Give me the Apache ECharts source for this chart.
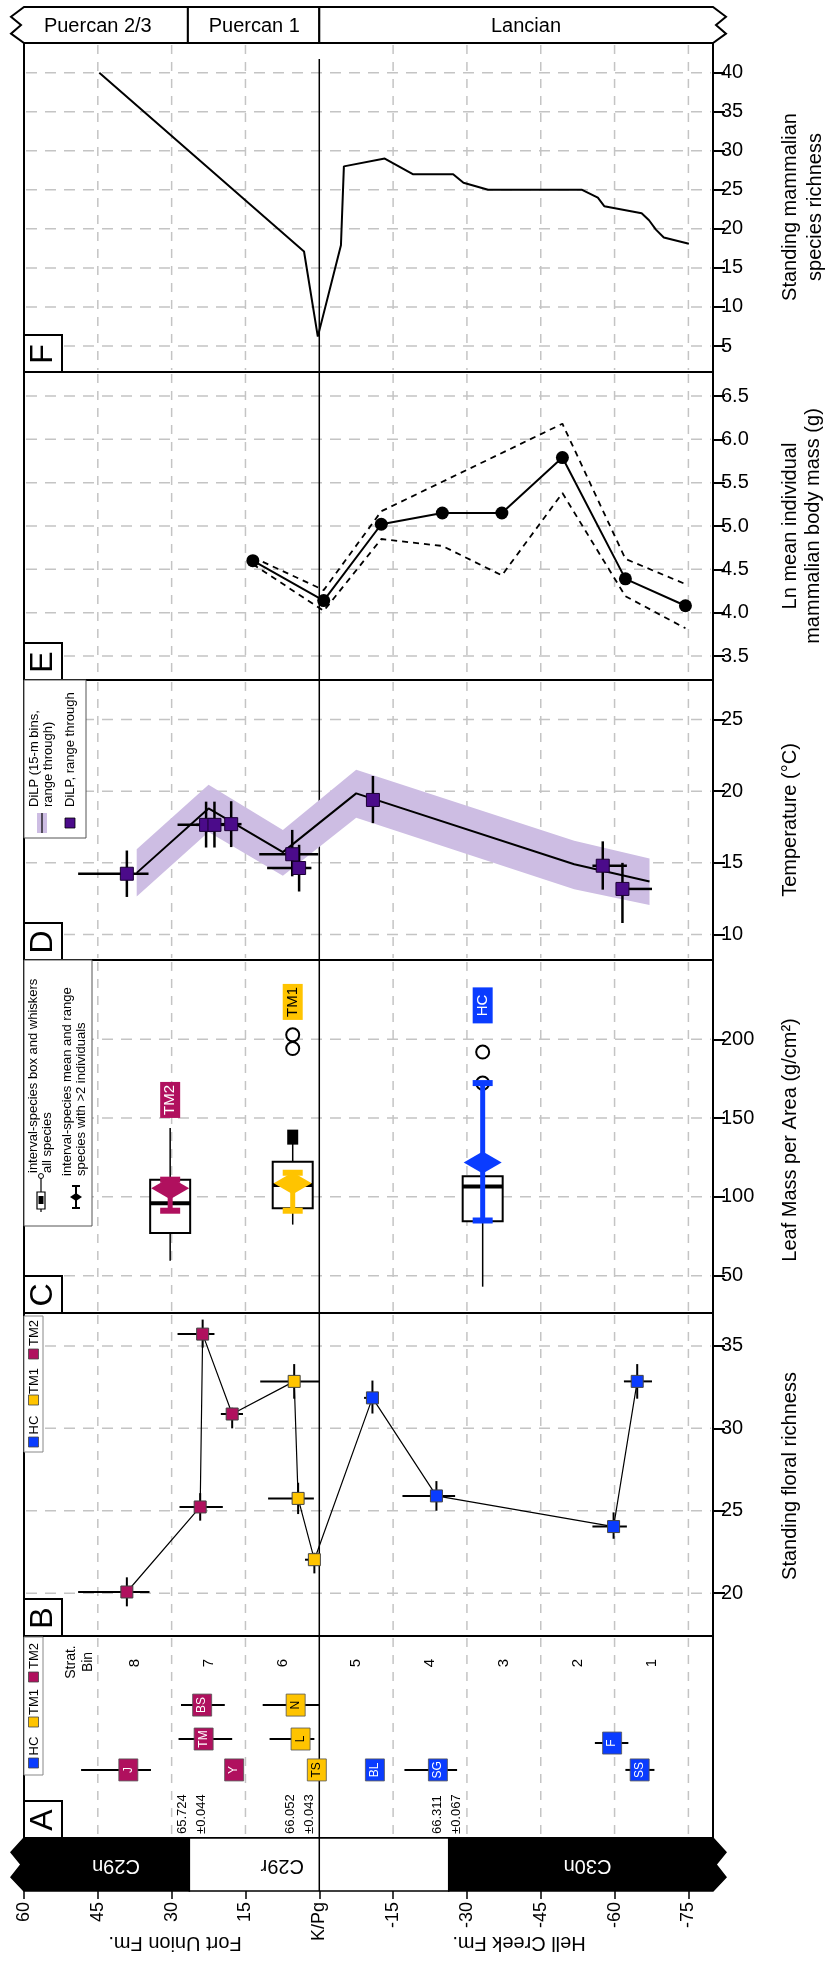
<!DOCTYPE html>
<html>
<head>
<meta charset="utf-8">
<title>Hell Creek / Fort Union records across the K/Pg boundary</title>
<script src="https://cdn.jsdelivr.net/npm/echarts@6.0.0/dist/echarts.min.js"></script>
<style>
html, body { margin: 0; padding: 0; background: #fff; }
#chart { width: 827px; height: 1968px; }
</style>
</head>
<body>
<div id="chart"></div>
<script>
// ---------------- data ----------------
// x everywhere: stratigraphic position (m) relative to the K/Pg boundary
const stratTicks = [60, 45, 30, 15, 0, -15, -30, -45, -60, -75];
const stratGrid = [45, 30, 15, -15, -30, -45, -60, -75];

// North American land-mammal ages
const nalmaNames = ['Puercan 2/3', 'Puercan 1', 'Lancian'];
const nalmaFrom = [60, 26.7, 0];
const nalmaTo = [26.7, 0, -80];

// magnetochrons and boundary ages (Ma)
const chronNames = ['C29n', 'C29r', 'C30n'];
const chronFrom = [60, 26.4, -26.3];
const chronTo = [26.4, -26.3, -80];
const chronPolarity = ['normal', 'reversed', 'normal'];
const chronAges = ['65.724', '66.052', '66.311'];
const chronAgeErr = ['±0.044', '±0.043', '±0.067'];

// F: standing mammalian species richness
const mammTicks = [5, 10, 15, 20, 25, 30, 35, 40];
const mammStrat = [44.7, 3.1, 0.3, -4.4, -5.0, -13.3, -19.0, -27.2, -29.3, -34.3, -53.4, -56.6, -57.9, -65.5, -67.0, -68.4, -70.0, -75.1];
const mammRichness = [40, 17.1, 6.2, 17.9, 28.0, 29.0, 27.0, 27.0, 25.9, 25.0, 25.0, 24.0, 22.9, 22.0, 21.1, 19.9, 18.9, 18.1];

// E: ln mean individual mammalian body mass
const massTicks = [3.5, 4.0, 4.5, 5.0, 5.5, 6.0, 6.5];
const massStrat = [13.5, -0.9, -12.6, -25.0, -37.1, -49.4, -62.2, -74.4];
const massMean = [4.60, 4.14, 5.02, 5.15, 5.15, 5.79, 4.39, 4.08];
const massUpperStrat = [13.5, -0.9, -12.6, -49.4, -62.2, -74.4];
const massUpper = [4.64, 4.26, 5.17, 6.18, 4.62, 4.33];
const massLowerStrat = [13.5, -0.9, -12.6, -25.0, -37.1, -49.4, -62.2, -74.4];
const massLower = [4.56, 4.02, 4.85, 4.77, 4.43, 5.38, 4.19, 3.82];

// D: DiLP temperature
const tempTicks = [10, 15, 20, 25];
const tempBinStrat = [37.1, 22.5, 7.4, -7.5, -51.8, -67.1];
const tempBin = [14.3, 18.8, 15.75, 19.85, 14.9, 13.7];
const tempBinLow = [12.65, 17.15, 14.1, 18.15, 13.15, 12.05];
const tempBinHigh = [15.95, 20.45, 17.3, 21.5, 16.55, 15.3];
const tempStrat = [39.1, 23.0, 21.3, 17.9, 5.5, 4.1, -10.9, -57.6, -61.6];
const tempStratMax = [49.0, 28.8, 25.0, 21.0, 12.2, 10.6, -10.9, -55.5, -61.6];
const tempStratMin = [34.7, 19.8, 19.0, 15.8, 0.2, 1.6, -10.9, -62.5, -67.6];
const temp = [14.24, 17.65, 17.65, 17.7, 15.6, 14.64, 19.39, 14.8, 13.18];
const tempLow = [12.62, 16.07, 16.07, 16.1, 14.06, 13.0, 17.77, 13.13, 10.8];
const tempHigh = [15.86, 19.27, 19.27, 19.3, 17.3, 16.26, 21.06, 16.5, 15.0];

// C: leaf mass per area
const lmaTicks = [50, 100, 150, 200];
const lmaGroup = ['TM2', 'TM1', 'HC'];
const lmaStrat = [30.3, 5.4, -33.2];
const lmaWhiskerLow = [59.4, 82.4, 43.0];
const lmaQ1 = [77.0, 92.7, 84.6];
const lmaMedian = [96.0, 107.6, 106.5];
const lmaQ3 = [110.9, 122.3, 113.1];
const lmaWhiskerHigh = [143.7, 134.3, 117.4];
const lmaUpperMarker = [null, 137.9, null];
const lmaOutliers = [[], [194.1, 202.8], [172.2, 191.9]];
const lmaSpeciesMin = [91.2, 91.2, 85.0];
const lmaSpeciesMean = [105.4, 108.7, 121.8];
const lmaSpeciesMax = [110.9, 115.3, 172.2];

// B: standing floral richness
const floraTicks = [20, 25, 30, 35];
const floraGroup = ['TM2', 'TM2', 'TM2', 'TM2', 'TM1', 'TM1', 'TM1', 'HC', 'HC', 'HC', 'HC'];
const floraStrat = [39.1, 24.2, 23.7, 17.7, 5.1, 4.3, 1.0, -10.8, -23.8, -59.8, -64.6];
const floraStratMax = [49.0, 28.4, 28.8, 20.0, 12.0, 10.4, 2.9, -9.1, -16.9, -55.5, -61.9];
const floraStratMin = [34.5, 19.6, 21.3, 15.5, 0.0, 1.1, 0.75, -11.9, -27.6, -62.5, -67.6];
const floraRichness = [20.07, 25.23, 35.72, 30.87, 32.85, 25.75, 22.03, 31.85, 25.9, 24.04, 32.85];
const floraRichMin = [19.2, 24.4, 34.9, 30.0, 31.8, 24.8, 21.2, 30.9, 25.0, 23.3, 31.8];
const floraRichMax = [20.96, 26.07, 36.6, 31.25, 33.9, 26.7, 22.45, 32.9, 26.8, 24.9, 33.9];

// A: fossil sites and stratigraphic bins
const siteNames = ['J', 'BS', 'TM', 'Y', 'N', 'L', 'TS', 'BL', 'SG', 'F', 'SS'];
const siteGroup = ['TM2', 'TM2', 'TM2', 'TM2', 'TM1', 'TM1', 'TM1', 'HC', 'HC', 'HC', 'HC'];
const siteStrat = [38.8, 23.8, 23.5, 17.3, 4.8, 3.8, 0.5, -11.3, -24.1, -59.5, -65.1];
const siteStratMax = [48.4, 28.1, 28.6, 17.3, 11.5, 10.1, 0.5, -11.3, -17.3, -56.0, -62.2];
const siteStratMin = [34.2, 19.2, 17.7, 17.3, 0.0, 1.0, 0.5, -11.3, -28.0, -62.8, -68.1];
const binLabels = ['8', '7', '6', '5', '4', '3', '2', '1'];
const binTop = [45, 30, 15, 0, -15, -30, -45, -60];
const binBase = [30, 15, 0, -15, -30, -45, -60, -75];

// ---------------- layout & style ----------------
const FONT = '"Liberation Sans", Arial, Helvetica, sans-serif';
const PLOT_L = 24, PLOT_R = 713;
const panelOrder = ['top', 'F', 'E', 'D', 'C', 'B', 'A', 'chron'];
const panelBox = { top: [7, 36], F: [43, 329], E: [372, 308], D: [680, 280], C: [960, 353], B: [1313, 323], A: [1636, 202], chron: [1838, 53] };
const yRange = { top: [0, 1], F: [1.67, 43.8], E: [3.223, 6.777], D: [8.22, 27.76], C: [26.3, 250.3], B: [17.4, 37.0], A: [0, 1], chron: [0, 1] };
const yTickVals = { F: mammTicks, E: massTicks, D: tempTicks, C: lmaTicks, B: floraTicks };
const kpgTopF = 41.75;
const nalmaLabelAt = [45, 13.2, -42];
const chronLabelAt = [41.3, 7.5, -54.5];
const lmaLabelY = { TM2: 161.5, TM1: 223.7, HC: 221.5 };
const siteRowY = { J: 0.337, BS: 0.658, TM: 0.49, Y: 0.337, N: 0.658, L: 0.49, TS: 0.337, BL: 0.337, SG: 0.337, F: 0.47, SS: 0.337 };
const GRID_GRAY = '#c4c4c4';
const groupColor = { HC: '#0a3cff', TM1: '#ffc400', TM2: '#b0105e' };
const groupText = { HC: '#fff', TM1: '#000', TM2: '#fff' };
const C_DILP = '#4b0b8a', C_BAND = '#cdbde3';
const CCW = Math.PI / 2, FLIP = Math.PI;

const gi = n => panelOrder.indexOf(n);
const ax = n => ({ xAxisIndex: gi(n), yAxisIndex: gi(n) });
const zip = (a, b) => a.map((v, i) => [v, b[i]]);

// ---------------- grids & axes ----------------
const grid = panelOrder.map(n => {
  const [top, h] = panelBox[n];
  const framed = n !== 'top' && n !== 'chron';
  return { left: PLOT_L, width: PLOT_R - PLOT_L, top, height: h, show: framed,
    borderColor: '#000', borderWidth: 2, backgroundColor: 'rgba(0,0,0,0)', containLabel: false };
});

const xAxis = panelOrder.map((n, i) => {
  const base = { gridIndex: i, type: 'value', min: -80, max: 60, inverse: true };
  if (n !== 'chron') return Object.assign(base, { show: false });
  return Object.assign(base, {
    position: 'bottom',
    axisLine: { show: false, onZero: false },
    axisTick: { show: true, inside: false, length: 8, customValues: stratTicks, lineStyle: { color: '#000', width: 1.5 } },
    axisLabel: { show: true, customValues: stratTicks, rotate: 90, margin: 11, fontSize: 18, fontFamily: FONT, color: '#000',
      formatter: v => (v === 0 ? 'K/Pg' : String(v)) },
    splitLine: { show: false }
  });
});

const yAxis = panelOrder.map((n, i) => {
  const base = { gridIndex: i, type: 'value', min: yRange[n][0], max: yRange[n][1] };
  const ticks = yTickVals[n];
  if (!ticks) return Object.assign(base, { show: false });
  return Object.assign(base, {
    position: 'right',
    axisLine: { show: true, onZero: false, lineStyle: { color: '#000', width: 2 } },
    axisTick: { show: true, inside: false, length: 12, customValues: ticks, lineStyle: { color: '#000', width: 2 } },
    axisLabel: { show: true, customValues: ticks, margin: 8, fontSize: 20, fontFamily: FONT, color: '#000',
      formatter: n === 'E' ? (v => Number(v).toFixed(1)) : (v => String(v)) },
    splitLine: { show: false }
  });
});

// ---------------- series ----------------
const series = [];
const textStyle = (text, size, color, align) => ({ text, fill: color || '#000', font: size + 'px ' + FONT,
  align: align || 'center', verticalAlign: 'middle', textAlign: align || 'center', textVerticalAlign: 'middle' });

// dashed reference lines
['F', 'E', 'D', 'C', 'B', 'A'].forEach(n => {
  series.push(Object.assign(ax(n), {
    type: 'custom', silent: true, z: 1, data: stratGrid.map(v => [v]), encode: { x: 0 },
    renderItem(params, api) {
      const cs = params.coordSys;
      const x = api.coord([api.value(0), yRange[n][0]])[0];
      return { type: 'line', shape: { x1: x, y1: cs.y + 2, x2: x, y2: cs.y + cs.height - 2 },
        style: { stroke: GRID_GRAY, lineWidth: 1.5, lineDash: [9, 8] } };
    }
  }));
  if (yTickVals[n]) {
    series.push(Object.assign(ax(n), {
      type: 'custom', silent: true, z: 1, data: yTickVals[n].map(v => [v]), encode: { y: 0 },
      renderItem(params, api) {
        const cs = params.coordSys;
        const y = api.coord([0, api.value(0)])[1];
        return { type: 'line', shape: { x1: cs.x + 2, y1: y, x2: cs.x + cs.width - 2, y2: y },
          style: { stroke: GRID_GRAY, lineWidth: 1.5, lineDash: [11, 8] } };
      }
    }));
  }
});

// K/Pg boundary line
['F', 'E', 'D', 'C', 'B', 'A', 'chron'].forEach(n => {
  series.push(Object.assign(ax(n), {
    type: 'custom', silent: true, z: n === 'chron' ? 7 : 2, data: [[0]], encode: { x: 0 },
    renderItem(params, api) {
      const cs = params.coordSys;
      const x = api.coord([0, yRange[n][0]])[0];
      const y1 = n === 'F' ? api.coord([0, kpgTopF])[1] : cs.y;
      return { type: 'line', shape: { x1: x, y1, x2: x, y2: cs.y + cs.height }, style: { stroke: '#000', lineWidth: 1.5 } };
    }
  }));
});

// banded time scales (top: NALMA, bottom: magnetochrons)
function bandRow(n, from, to, names, labelAt, fillFn, textFn, textRot, lw) {
  return Object.assign(ax(n), {
    type: 'custom', silent: true, z: 5,
    data: names.map((nm, i) => [from[i], to[i], labelAt[i]]), encode: { x: [0, 1] },
    renderItem(params, api) {
      const i = params.dataIndex, cs = params.coordSys;
      const x1 = api.coord([api.value(0), 0])[0], x2 = api.coord([api.value(1), 0])[0];
      const top = cs.y, h = cs.height, bot = top + h;
      const pts = [[x1, top], [x2, top]];
      if (i === names.length - 1) pts.push([x2 + 13, top + h * 0.27], [x2 + 3, top + h * 0.5], [x2 + 13, top + h * 0.74]);
      pts.push([x2, bot], [x1, bot]);
      if (i === 0) pts.push([x1 - 13, top + h * 0.74], [x1 - 3, top + h * 0.5], [x1 - 13, top + h * 0.27]);
      const lx = api.coord([api.value(2), 0])[0];
      return { type: 'group', children: [
        { type: 'polygon', shape: { points: pts }, style: { fill: fillFn(i), stroke: '#000', lineWidth: lw } },
        { type: 'text', x: lx, y: top + h / 2 + 1, rotation: textRot, style: textStyle(names[i], 20, textFn(i)) }
      ] };
    }
  });
}
series.push(bandRow('top', nalmaFrom, nalmaTo, nalmaNames, nalmaLabelAt, () => '#fff', () => '#000', 0, 2));
series.push(bandRow('chron', chronFrom, chronTo, chronNames, chronLabelAt,
  i => (chronPolarity[i] === 'normal' ? '#000' : '#fff'),
  i => (chronPolarity[i] === 'normal' ? '#fff' : '#000'), FLIP, 1.5));

// F
series.push(Object.assign(ax('F'), { type: 'line', silent: true, z: 4, symbol: 'none', showSymbol: false,
  data: zip(mammStrat, mammRichness), lineStyle: { color: '#000', width: 2 } }));

// E
series.push(Object.assign(ax('E'), { type: 'line', silent: true, z: 3, symbol: 'none', showSymbol: false,
  data: zip(massUpperStrat, massUpper), lineStyle: { color: '#000', width: 1.8, type: [6, 5] } }));
series.push(Object.assign(ax('E'), { type: 'line', silent: true, z: 3, symbol: 'none', showSymbol: false,
  data: zip(massLowerStrat, massLower), lineStyle: { color: '#000', width: 1.8, type: [6, 5] } }));
series.push(Object.assign(ax('E'), { type: 'line', silent: true, z: 4, symbol: 'circle', symbolSize: 13, showSymbol: true,
  data: zip(massStrat, massMean), itemStyle: { color: '#000', opacity: 1 }, lineStyle: { color: '#000', width: 2 } }));

// error bars helper
function errorBars(n, xs, ys, xa, xb, ya, yb, width, z) {
  return Object.assign(ax(n), {
    type: 'custom', silent: true, z: z || 3,
    data: xs.map((x, i) => [x, ys[i], xa ? xa[i] : x, xb ? xb[i] : x, ya ? ya[i] : ys[i], yb ? yb[i] : ys[i]]),
    encode: { x: [0, 2, 3], y: [1, 4, 5] },
    renderItem(params, api) {
      const a = api.coord([api.value(2), api.value(1)]), b = api.coord([api.value(3), api.value(1)]);
      const d = api.coord([api.value(0), api.value(4)]), e = api.coord([api.value(0), api.value(5)]);
      const st = { stroke: '#000', lineWidth: width };
      return { type: 'group', children: [
        { type: 'line', shape: { x1: a[0], y1: a[1], x2: b[0], y2: b[1] }, style: st },
        { type: 'line', shape: { x1: d[0], y1: d[1], x2: e[0], y2: e[1] }, style: st }
      ] };
    }
  });
}

// D
series.push(Object.assign(ax('D'), {
  type: 'custom', silent: true, z: 2, data: [[0]], encode: { x: 0 },
  renderItem(params, api) {
    const up = tempBinStrat.map((s, i) => api.coord([s, tempBinHigh[i]]));
    const lo = tempBinStrat.map((s, i) => api.coord([s, tempBinLow[i]])).reverse();
    return { type: 'polygon', shape: { points: up.concat(lo) }, style: { fill: C_BAND } };
  }
}));
series.push(Object.assign(ax('D'), { type: 'line', silent: true, z: 3, symbol: 'none', showSymbol: false,
  data: zip(tempBinStrat, tempBin), lineStyle: { color: '#000', width: 2 } }));
series.push(errorBars('D', tempStrat, temp, tempStratMax, tempStratMin, tempLow, tempHigh, 2.5, 3));
series.push(Object.assign(ax('D'), { type: 'scatter', silent: true, z: 4, symbol: 'rect', symbolSize: 13,
  data: zip(tempStrat, temp), itemStyle: { color: C_DILP, opacity: 1, borderColor: '#1a0033', borderWidth: 1 } }));

// C: box-and-whisker per interval
series.push(Object.assign(ax('C'), {
  type: 'custom', silent: true, z: 3,
  data: lmaStrat.map((s, i) => [s, lmaQ1[i], lmaMedian[i], lmaQ3[i], lmaWhiskerLow[i], lmaWhiskerHigh[i]]),
  encode: { x: 0, y: [1, 2, 3, 4, 5] },
  renderItem(params, api) {
    const s = api.value(0);
    const x = api.coord([s, api.value(1)])[0];
    const yq1 = api.coord([s, api.value(1)])[1], ymed = api.coord([s, api.value(2)])[1];
    const yq3 = api.coord([s, api.value(3)])[1], ylo = api.coord([s, api.value(4)])[1], yhi = api.coord([s, api.value(5)])[1];
    const hw = 20;
    return { type: 'group', children: [
      { type: 'line', shape: { x1: x, y1: yhi, x2: x, y2: yq3 }, style: { stroke: '#000', lineWidth: 1.5 } },
      { type: 'line', shape: { x1: x, y1: yq1, x2: x, y2: ylo }, style: { stroke: '#000', lineWidth: 1.5 } },
      { type: 'rect', shape: { x: x - hw, y: yq3, width: 2 * hw, height: yq1 - yq3 }, style: { fill: '#fff', stroke: '#000', lineWidth: 2 } },
      { type: 'line', shape: { x1: x - hw, y1: ymed, x2: x + hw, y2: ymed }, style: { stroke: '#000', lineWidth: 4 } }
    ] };
  }
}));
series.push(Object.assign(ax('C'), { type: 'scatter', silent: true, z: 3, symbol: 'emptyCircle', symbolSize: 13,
  data: lmaOutliers.flatMap((arr, i) => arr.map(v => [lmaStrat[i], v])),
  itemStyle: { color: '#000', opacity: 1, borderColor: '#000', borderWidth: 2.5 } }));
series.push(Object.assign(ax('C'), { type: 'scatter', silent: true, z: 3, symbol: 'rect', symbolSize: [11, 15],
  data: lmaUpperMarker.map((v, i) => (v == null ? null : [lmaStrat[i], v])).filter(Boolean),
  itemStyle: { color: '#000', opacity: 1 } }));
// species mean and range
series.push(Object.assign(ax('C'), {
  type: 'custom', silent: true, z: 4,
  data: lmaStrat.map((s, i) => [s, lmaSpeciesMin[i], lmaSpeciesMean[i], lmaSpeciesMax[i]]),
  encode: { x: 0, y: [1, 2, 3] },
  renderItem(params, api) {
    const i = params.dataIndex, s = api.value(0);
    const x = api.coord([s, api.value(2)])[0];
    const ylo = api.coord([s, api.value(1)])[1], ym = api.coord([s, api.value(2)])[1], yhi = api.coord([s, api.value(3)])[1];
    const c = groupColor[lmaGroup[i]];
    return { type: 'group', children: [
      { type: 'line', shape: { x1: x, y1: ylo, x2: x, y2: yhi }, style: { stroke: c, lineWidth: 5 } },
      { type: 'rect', shape: { x: x - 10, y: ylo - 3, width: 20, height: 6 }, style: { fill: c } },
      { type: 'rect', shape: { x: x - 10, y: yhi - 3, width: 20, height: 6 }, style: { fill: c } },
      { type: 'polygon', shape: { points: [[x - 19, ym], [x, ym - 11], [x + 19, ym], [x, ym + 11]] }, style: { fill: c } }
    ] };
  }
}));
series.push(Object.assign(ax('C'), { type: 'scatter', silent: true, z: 5, symbol: 'rect', symbolSize: [20, 36],
  data: lmaGroup.map((g, i) => ({ value: [lmaStrat[i], lmaLabelY[g]], itemStyle: { color: groupColor[g], opacity: 1 },
    label: { color: groupText[g] } })),
  label: { show: true, position: 'inside', rotate: 90, fontSize: 15, fontFamily: FONT, formatter: p => lmaGroup[p.dataIndex] } }));

// B
series.push(Object.assign(ax('B'), { type: 'line', silent: true, z: 3, symbol: 'none', showSymbol: false,
  data: zip(floraStrat, floraRichness), lineStyle: { color: '#000', width: 1.2 } }));
series.push(errorBars('B', floraStrat, floraRichness, floraStratMax, floraStratMin, floraRichMin, floraRichMax, 2, 3));
series.push(Object.assign(ax('B'), { type: 'scatter', silent: true, z: 4, symbol: 'rect', symbolSize: 12,
  data: floraStrat.map((s, i) => ({ value: [s, floraRichness[i]], itemStyle: { color: groupColor[floraGroup[i]], opacity: 1 } })),
  itemStyle: { opacity: 1, borderColor: '#444', borderWidth: 1 } }));

// A
series.push(errorBars('A', siteStrat, siteNames.map(nm => siteRowY[nm]), siteStratMax, siteStratMin, null, null, 2, 3));
series.push(Object.assign(ax('A'), { type: 'scatter', silent: true, z: 4, symbol: 'rect', symbolSize: [19, 22],
  data: siteStrat.map((s, i) => ({ value: [s, siteRowY[siteNames[i]]], itemStyle: { color: groupColor[siteGroup[i]], opacity: 1 },
    label: { color: groupText[siteGroup[i]] } })),
  itemStyle: { opacity: 1, borderColor: '#555', borderWidth: 0.8 },
  label: { show: true, position: 'inside', rotate: 90, fontSize: 12, fontFamily: FONT, formatter: p => siteNames[p.dataIndex] } }));
series.push(Object.assign(ax('A'), {
  type: 'custom', silent: true, z: 4,
  data: binLabels.map((b, i) => [(binTop[i] + binBase[i]) / 2]), encode: { x: 0 },
  renderItem(params, api) {
    const p = api.coord([api.value(0), 0.866]);
    return { type: 'text', x: p[0], y: p[1], rotation: CCW, style: textStyle(binLabels[params.dataIndex], 15) };
  }
}));

// ---------------- annotations ----------------
const graphic = [];
function gText(text, x, y, size, opt) {
  opt = opt || {};
  graphic.push({ type: 'text', x, y, rotation: opt.rot || 0, z: opt.z || 60, silent: true,
    style: textStyle(text, size, opt.color, opt.align) });
}
function gRect(x, y, w, h, style, z) { graphic.push({ type: 'rect', shape: { x, y, width: w, height: h }, style, z: z || 55, silent: true }); }
function gLine(x1, y1, x2, y2, style, z) { graphic.push({ type: 'line', shape: { x1, y1, x2, y2 }, style, z: z || 56, silent: true }); }

// panel letters
['F', 'E', 'D', 'C', 'B', 'A'].forEach(n => {
  const [top, h] = panelBox[n];
  const y0 = top + h - 37;
  gRect(PLOT_L, y0, 38, 37, { fill: '#fff', stroke: '#000', lineWidth: 2 });
  gText(n, PLOT_L + 19, y0 + 19, 32, { rot: CCW });
});

// value-axis titles
gText('Standing mammalian', 790, 207, 20, { rot: CCW });
gText('species richness', 815, 207, 20, { rot: CCW });
gText('Ln mean individual', 790, 526, 20, { rot: CCW });
gText('mammalian body mass (g)', 813, 526, 20, { rot: CCW });
gText('Temperature (°C)', 790, 820, 20, { rot: CCW });
gText('Leaf Mass per Area (g/cm²)', 790, 1140, 20, { rot: CCW });
gText('Standing floral richness', 790, 1476, 20, { rot: CCW });

// formation names under the stratigraphic axis
gText('Fort Union Fm.', 175, 1943, 20, { rot: FLIP });
gText('Hell Creek Fm.', 519, 1943, 20, { rot: FLIP });

// chron boundary ages
const ageCols = [[182, 201], [290, 309], [437, 456]];
chronAges.forEach((a, i) => {
  gText(a, ageCols[i][0], 1834, 13, { rot: CCW, align: 'left' });
  gText(chronAgeErr[i], ageCols[i][1], 1834, 13, { rot: CCW, align: 'left' });
});

// strat bin header
gText('Strat.', 71, 1662, 14, { rot: CCW });
gText('Bin', 88, 1662, 14, { rot: CCW });

// group legends (A and B)
function groupLegend(top, bottom, items) {
  gRect(PLOT_L, top, 19, bottom - top, { fill: '#fff', stroke: '#888', lineWidth: 1 });
  items.forEach(([g, sqY, txtY]) => {
    gRect(PLOT_L + 4.5, sqY - 5, 10, 10, { fill: groupColor[g], stroke: '#444', lineWidth: 0.8 }, 57);
    gText(g, PLOT_L + 10, txtY, 13, { rot: CCW, z: 57 });
  });
}
groupLegend(1316, 1452, [['HC', 1442, 1425], ['TM1', 1400, 1381], ['TM2', 1354, 1333]]);
groupLegend(1637, 1775, [['HC', 1763, 1746], ['TM1', 1722, 1702], ['TM2', 1677, 1656]]);

// D legend
gRect(PLOT_L, 680, 62, 158, { fill: '#fff', stroke: '#555', lineWidth: 1 });
gRect(37, 813, 10, 20, { fill: C_BAND }, 57);
gLine(42, 813, 42, 833, { stroke: '#000', lineWidth: 1.2 }, 58);
gText('DiLP (15-m bins,', 34, 807, 13, { rot: CCW, align: 'left', z: 57 });
gText('range through)', 48, 807, 13, { rot: CCW, align: 'left', z: 57 });
gRect(65, 818, 10, 10, { fill: C_DILP, stroke: '#000', lineWidth: 0.8 }, 57);
gText('DiLP, range through', 70, 807, 13, { rot: CCW, align: 'left', z: 57 });

// C legend
gRect(PLOT_L, 960, 68, 266, { fill: '#fff', stroke: '#555', lineWidth: 1 });
gLine(41, 1178, 41, 1212, { stroke: '#000', lineWidth: 1.2 }, 57);
graphic.push({ type: 'circle', shape: { cx: 41, cy: 1176, r: 2.5 }, style: { fill: '#fff', stroke: '#000', lineWidth: 1 }, z: 58, silent: true });
gRect(37, 1192, 8, 17, { fill: '#fff', stroke: '#000', lineWidth: 1.2 }, 58);
gRect(38.5, 1196, 5, 8, { fill: '#000' }, 59);
gText('interval-species box and whiskers', 33, 1173, 13, { rot: CCW, align: 'left', z: 57 });
gText('all species', 47.5, 1173, 13, { rot: CCW, align: 'left', z: 57 });
gLine(76, 1186, 76, 1208, { stroke: '#000', lineWidth: 2 }, 57);
gLine(72, 1186, 80, 1186, { stroke: '#000', lineWidth: 2 }, 57);
gLine(72, 1208, 80, 1208, { stroke: '#000', lineWidth: 2 }, 57);
graphic.push({ type: 'polygon', shape: { points: [[70, 1197], [76, 1193], [82, 1197], [76, 1201]] }, style: { fill: '#000' }, z: 58, silent: true });
gText('interval-species mean and range', 67.5, 1176, 13, { rot: CCW, align: 'left', z: 57 });
gText('species with >2 individuals', 81.7, 1176, 13, { rot: CCW, align: 'left', z: 57 });

// ---------------- render ----------------
const chart = echarts.init(document.getElementById('chart'), null, { renderer: 'canvas' });
chart.setOption({
  animation: false,
  backgroundColor: '#fff',
  textStyle: { fontFamily: FONT },
  grid, xAxis, yAxis, series, graphic
});
</script>
</body>
</html>
